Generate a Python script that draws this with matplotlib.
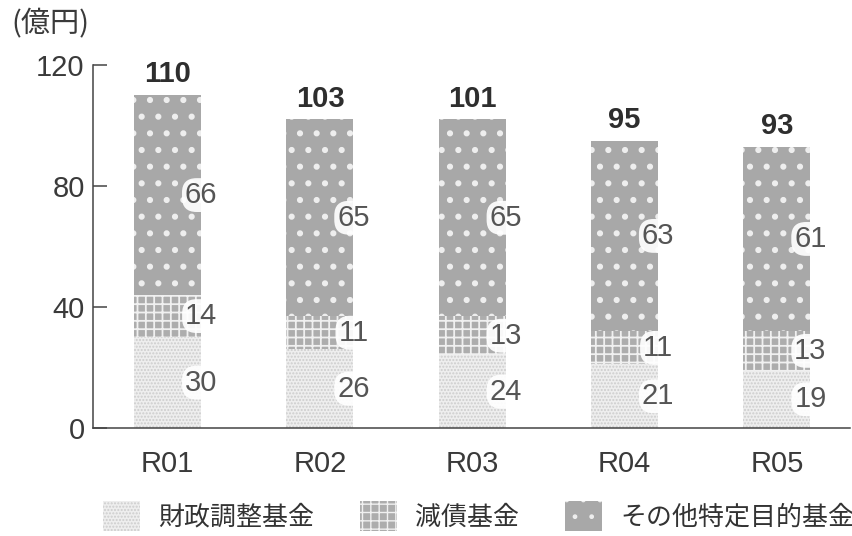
import matplotlib
matplotlib.use("Agg")
import matplotlib.pyplot as plt
import numpy as np
from matplotlib.patches import Patch

plt.rcParams['font.family'] = ['Liberation Sans', 'Noto Sans CJK JP', 'DejaVu Sans']

# Data (億円)
years = ["R01", "R02", "R03", "R04", "R05"]
zaisei_chosei = [30, 26, 24, 21, 19]      # 財政調整基金
gensai = [14, 11, 13, 11, 13]             # 減債基金
sonota = [66, 65, 65, 63, 61]             # その他特定目的基金
totals = [110, 103, 101, 95, 93]
yticks = [0, 40, 80, 120]
series_names = ["財政調整基金", "減債基金", "その他特定目的基金"]

axis_col = "#444444"
cjk = ["Noto Sans CJK JP", "DejaVu Sans"]

fig = plt.figure(figsize=(8.53, 5.36), dpi=100)
ax = fig.add_axes([93 / 853, 108 / 536, 757 / 853, 363 / 536])

x = np.arange(len(years))
w = 0.44

styles = [
    dict(facecolor="#eeeeee", edgecolor="#cdcdcd", hatch="....."),
    dict(facecolor="#adadad", edgecolor="#f0f0f0", hatch="++"),
    dict(facecolor="#a8a8a8", edgecolor="#eeeeee", hatch="."),
]
hatch_lw = [1.0, 1.3, 2.0]

bottoms = np.zeros(len(years))
series = [zaisei_chosei, gensai, sonota]
for vals, st, hlw in zip(series, styles, hatch_lw):
    vals = np.array(vals, dtype=float)
    with plt.rc_context({"hatch.linewidth": hlw}):
        ax.bar(x, vals, w, bottom=bottoms, linewidth=0, **st)
    for xi, b, v in zip(x, bottoms, vals):
        ax.text(xi + 0.22, b + v / 2, f"{int(v)}", ha="center", va="center",
                fontsize=21, color="#555555",
                bbox=dict(boxstyle="round,pad=0.1,rounding_size=0.5",
                          facecolor="white", edgecolor="none", alpha=0.92))
    bottoms = bottoms + vals

for xi, top, t in zip(x, bottoms, totals):
    ax.annotate(f"{t}", (xi, top), xytext=(0, 5), textcoords="offset points",
                ha="center", va="bottom", fontsize=21, fontweight="bold",
                color="#2e2e2e")

ax.set_xlim(-0.49, 4.48)
ax.set_ylim(0, 120)
ax.set_yticks(yticks)
ax.set_xticks(x)
ax.set_xticklabels(years)
ax.tick_params(axis="y", direction="in", length=10, width=1.1, color=axis_col,
               labelsize=21, labelcolor="#3a3a3a", pad=6)
ax.tick_params(axis="x", length=0, labelsize=21, labelcolor="#3a3a3a", pad=16)
for s in ["top", "right"]:
    ax.spines[s].set_visible(False)
for s in ["left", "bottom"]:
    ax.spines[s].set_color(axis_col)
    ax.spines[s].set_linewidth(1.1)

fig.text(11 / 853, 1 - 24 / 536, "(億円)", fontsize=21, color="#3a3a3a",
         va="center", ha="left", family=cjk)

handles = []
for st, hlw in zip(styles, hatch_lw):
    with plt.rc_context({"hatch.linewidth": hlw}):
        handles.append(Patch(**st, linewidth=0))
leg = fig.legend(handles, series_names, loc="center left",
                 bbox_to_anchor=(103 / 853, 20 / 536), ncol=3,
                 frameon=False,
                 handlelength=1.42, handleheight=1.45, handletextpad=0.7,
                 columnspacing=1.77, borderpad=0, borderaxespad=0,
                 prop=dict(family=cjk, size=18.7))
for t in leg.get_texts():
    t.set_color("#333333")

fig.savefig("out.png", dpi=100)
